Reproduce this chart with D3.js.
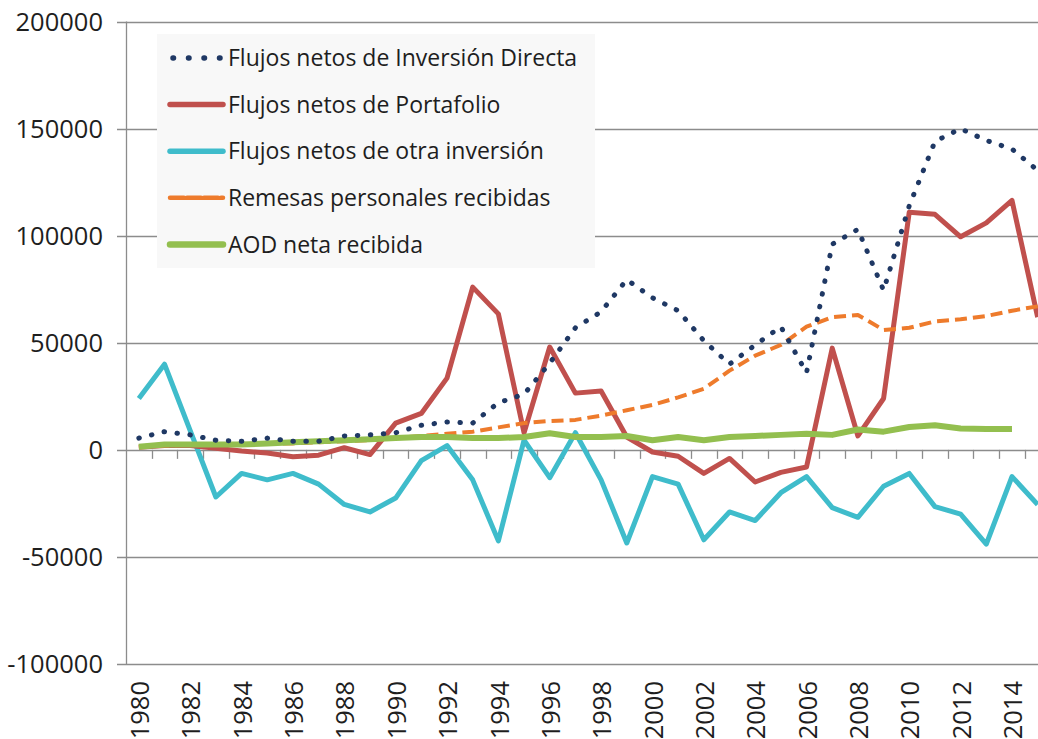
<!DOCTYPE html>
<html>
<head>
<meta charset="utf-8">
<script src="https://cdn.jsdelivr.net/npm/d3@7"></script>
<style>
  body { margin: 0; background: #fff; }
  svg text { font-family: "Open Sans", sans-serif; fill: #1e1e1e; }
</style>
</head>
<body>
<div id="chart"></div>
<script>

    // categories
    const years = [1980, 1981, 1982, 1983, 1984, 1985, 1986, 1987, 1988, 1989,
        1990, 1991, 1992, 1993, 1994, 1995, 1996, 1997, 1998, 1999,
        2000, 2001, 2002, 2003, 2004, 2005, 2006, 2007, 2008, 2009,
        2010, 2011, 2012, 2013, 2014, 2015];

    // series values
    const inversionDirecta = [5500, 8500, 7000, 4500, 4000, 5500, 4000, 4000, 6500, 7000,
        8000, 11500, 13000, 12500, 22000, 26000, 40500, 57000, 64500, 79500,
        71000, 65000, 51000, 40000, 49000, 57500, 36000, 96000, 103000, 74500,
        114000, 144000, 150000, 144500, 140500, 130500];

    const portafolio = [1200, 2000, 2000, 800, -500, -1500, -3200, -2500, 1000, -2200,
        12500, 17000, 33500, 76000, 63500, 8000, 48000, 26500, 27500, 6000,
        -1000, -3000, -11000, -4000, -15000, -10500, -8000, 47500, 6500, 24000,
        111000, 110000, 99500, 106000, 116500, 62000];

    const otraInversion = [24000, 40000, 9000, -22000, -11000, -14000, -11000, -16000, -25500, -29000,
        -22500, -5000, 2000, -14000, -42500, 4500, -13000, 8000, -14000, -43500,
        -12500, -16000, -42000, -29000, -33000, -20000, -12500, -27000, -31500, -17000,
        -11000, -26500, -30000, -44000, -12500, -25500];

    const remesas = [1500, 2000, 2500, 2500, 2500, 3000, 3000, 3500, 4000, 4500,
        5500, 6500, 7500, 8500, 10500, 12500, 13500, 14000, 16000, 18500,
        21000, 24500, 28500, 37000, 44000, 49000, 57500, 62000, 63000, 56000,
        57000, 60000, 61000, 62500, 65000, 67000];

    const aod = [1500, 2500, 2500, 2500, 2500, 3000, 3500, 4000, 4500, 5000,
        5500, 6000, 6000, 5500, 5500, 6000, 7800, 6000, 6000, 6500,
        4500, 6000, 4500, 6000, 6500, 7000, 7500, 7000, 9500, 8500,
        10700, 11500, 10000, 9800, 9800, null];

    const yTicks = [-100000, -50000, 0, 50000, 100000, 150000, 200000];

    const seriesList = [
        { name: "Flujos netos de Inversión Directa", values: inversionDirecta, color: "#1f3864", width: 5, dash: "0.5,12.5", cap: "round" },
        { name: "Flujos netos de Portafolio", values: portafolio, color: "#c0504d", width: 5, dash: null, cap: "butt" },
        { name: "Flujos netos de otra inversión", values: otraInversion, color: "#3fbccb", width: 5, dash: null, cap: "butt" },
        { name: "Remesas personales recibidas", values: remesas, color: "#ee7b2c", width: 4, dash: "12,6", cap: "butt" },
        { name: "AOD neta recibida", values: aod, color: "#93bf4f", width: 6, dash: null, cap: "butt" }
    ];
    // draw order: cyan and red first, then the others on top
    const drawOrder = [2, 1, 3, 4, 0];

    const width = 1038, height = 739;
    const plot = { left: 126, right: 1050.5, top: 21.6, bottom: 664 };

    const svg = d3.select("#chart").append("svg")
        .attr("width", width).attr("height", height);

    const x = d3.scaleBand().domain(years).range([plot.left, plot.right]);
    const y = d3.scaleLinear().domain([-100000, 200000]).range([plot.bottom, plot.top]);
    const cx = function (yr) { return x(yr) + x.bandwidth() / 2; };

    // gridlines
    svg.append("g").selectAll("line").data(yTicks).enter().append("line")
        .attr("x1", plot.left - 9).attr("x2", width)
        .attr("y1", function (d) { return Math.round(y(d)) + 0.5; })
        .attr("y2", function (d) { return Math.round(y(d)) + 0.5; })
        .attr("stroke", "#8c8c8c").attr("stroke-width", 1.3);

    // y axis line
    svg.append("line")
        .attr("x1", plot.left + 0.5).attr("x2", plot.left + 0.5)
        .attr("y1", y(200000)).attr("y2", y(-100000))
        .attr("stroke", "#8c8c8c").attr("stroke-width", 1.3);

    // y tick labels
    svg.append("g").selectAll("text").data(yTicks).enter().append("text")
        .attr("x", 103).attr("y", function (d) { return y(d); })
        .attr("dy", "0.36em").attr("text-anchor", "end")
        .style("font-size", "25.5px")
        .text(function (d) { return d; });

    // category tick marks on the zero line
    const edges = years.map(function (yr) { return x(yr); }).concat([plot.right]);
    svg.append("g").selectAll("line").data(edges.slice(1)).enter().append("line")
        .attr("x1", function (d) { return Math.round(d) + 0.5; })
        .attr("x2", function (d) { return Math.round(d) + 0.5; })
        .attr("y1", y(0)).attr("y2", y(0) + 9)
        .attr("stroke", "#8c8c8c").attr("stroke-width", 1.3);

    // x labels (every second year), rotated
    svg.append("g").selectAll("text").data(years.filter(function (d) { return d % 2 === 0; }))
        .enter().append("text")
        .attr("transform", function (d) { return "translate(" + (cx(d) + 1) + "," + 681 + ") rotate(-90)"; })
        .attr("dy", "0.36em").attr("text-anchor", "end")
        .style("font-size", "25.5px")
        .text(function (d) { return d; });

    // series lines
    const line = d3.line()
        .defined(function (d) { return d[1] !== null; })
        .x(function (d) { return cx(d[0]); })
        .y(function (d) { return y(d[1]); });

    drawOrder.forEach(function (i) {
        const s = seriesList[i];
        svg.append("path")
            .datum(years.map(function (yr, k) { return [yr, s.values[k]]; }))
            .attr("d", line)
            .attr("fill", "none")
            .attr("stroke", s.color)
            .attr("stroke-width", s.width)
            .attr("stroke-dasharray", s.dash)
            .attr("stroke-linecap", s.cap)
            .attr("stroke-linejoin", "round");
    });

    // legend
    const legend = svg.append("g").attr("transform", "translate(157,34)");
    legend.append("rect")
        .attr("width", 438).attr("height", 234)
        .attr("fill", "#f8f8f8");

    const rows = legend.selectAll("g.item").data(seriesList).enter().append("g")
        .attr("class", "item")
        .attr("transform", function (d, i) { return "translate(0," + (24 + i * 46.6) + ")"; });

    rows.append("line")
        .attr("x1", function (d) { return d.cap === "round" ? 16 : 13; })
        .attr("x2", 66)
        .attr("y1", 0).attr("y2", 0)
        .attr("stroke", function (d) { return d.color; })
        .attr("stroke-width", function (d) { return d.width + 0.5; })
        .attr("stroke-dasharray", function (d) { return d.cap === "round" ? "0.5,15" : (d.dash ? "14,3" : null); })
        .attr("stroke-linecap", "round");

    rows.append("text")
        .attr("x", 71).attr("y", 0).attr("dy", "0.36em")
        .style("font-size", "23px")
        .text(function (d) { return d.name; });

</script>
</body>
</html>
